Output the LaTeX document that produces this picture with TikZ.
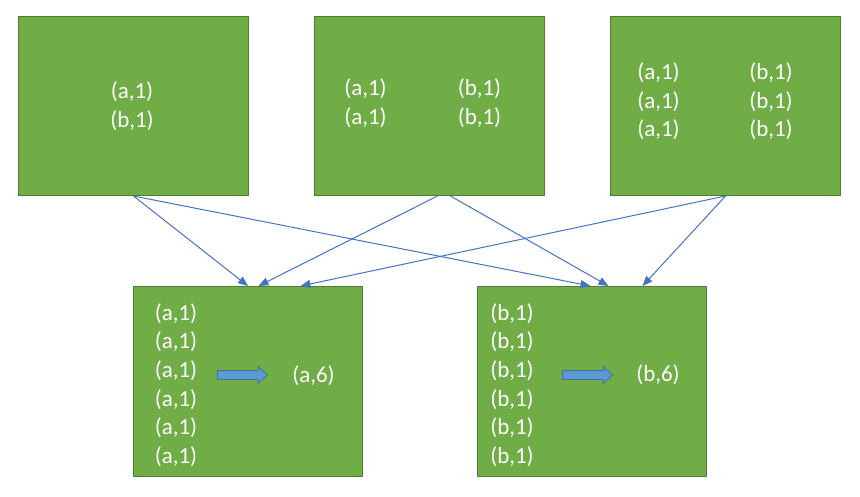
\documentclass[tikz,border=0pt]{standalone}
\usepackage{fontspec}
\setmainfont{Carlito}
\usetikzlibrary{arrows.meta,shapes.arrows}
\definecolor{boxgreen}{HTML}{70AD47}
\definecolor{boxedge}{HTML}{507E32}
\definecolor{linkblue}{HTML}{4472C4}
\definecolor{arrfill}{HTML}{5B9BD5}
\definecolor{arredge}{HTML}{41719C}
\begin{document}
\begin{tikzpicture}[x=1pt, y=-1pt, >={Triangle[length=10pt,width=8pt]},
  block/.style={draw=boxedge, fill=boxgreen, line width=1pt, anchor=north west, inner sep=0pt},
  pairs/.style={text=white, font=\fontsize{23}{28.6}\selectfont, align=center, inner sep=0pt},
  link/.style={draw=linkblue, line width=1pt, ->},
  reduce/.style={single arrow, draw=arredge, fill=arrfill, line width=0.8pt, minimum height=50pt, minimum width=16pt, single arrow head extend=4pt, single arrow tip angle=84, inner xsep=0pt, inner ysep=4pt}]
\useasboundingbox (0,0) rectangle (860,497);
% map side
\node[block, minimum width=230pt, minimum height=179pt] (t1) at (18,16) {};
\node[block, minimum width=230pt, minimum height=179pt] (t2) at (314,16) {};
\node[block, minimum width=230pt, minimum height=179pt] (t3) at (610,16) {};
\node[pairs] (t1a) at (132,106) {(a,1)\\(b,1)};
\node[pairs] (t2a) at (365.5,103) {(a,1)\\(a,1)};
\node[pairs] (t2b) at (479.5,103) {(b,1)\\(b,1)};
\node[pairs] (t3a) at (658.5,101.5) {(a,1)\\(a,1)\\(a,1)};
\node[pairs] (t3b) at (771,101.5) {(b,1)\\(b,1)\\(b,1)};
% reduce side
\node[block, minimum width=229pt, minimum height=190pt] (b1) at (133,286) {};
\node[block, minimum width=229pt, minimum height=190pt] (b2) at (477,286) {};
\node[pairs] (b1a) at (176,385) {(a,1)\\(a,1)\\(a,1)\\(a,1)\\(a,1)\\(a,1)};
\node[pairs] (b2b) at (512,385) {(b,1)\\(b,1)\\(b,1)\\(b,1)\\(b,1)\\(b,1)};
\node[reduce] (r1) at (240,375) {};
\node[reduce] (r2) at (585,375) {};
\node[pairs] (b1s) at (313.5,376) {(a,6)};
\node[pairs] (b2s) at (658,375) {(b,6)};
% shuffle
\draw[link] (t1.south) -- (b1.north);
\draw[link] (t1.south) -- ([xshift=-1.5pt]b2.north);
\draw[link] ([xshift=8pt]t2.south) -- ([xshift=10.5pt]b1.north);
\draw[link] ([xshift=21pt]t2.south) -- ([xshift=16.5pt]b2.north);
\draw[link] (t3.south) -- ([xshift=52.5pt]b1.north);
\draw[link] (t3.south) -- ([xshift=50.5pt]b2.north);
\end{tikzpicture}
\end{document}
